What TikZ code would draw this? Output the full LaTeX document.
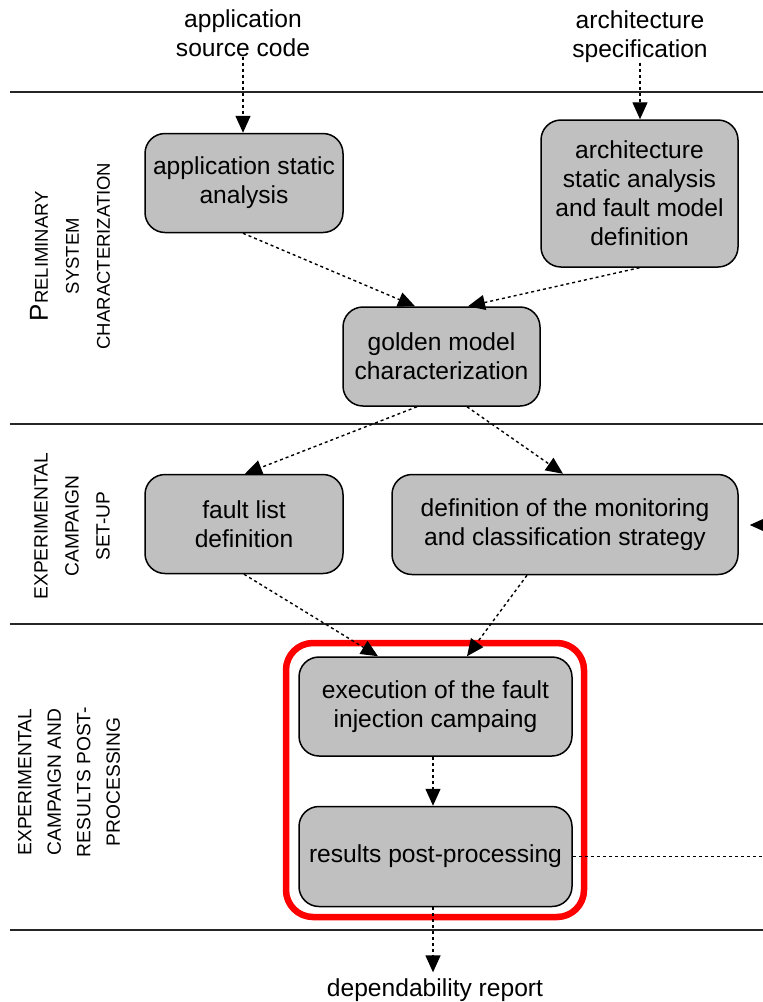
\documentclass[tikz,border=0pt]{standalone}
\usepackage{fontspec}
\setmainfont{Liberation Sans}
\usetikzlibrary{arrows.meta,calc}

\tikzset{
  stepbox/.style={draw=black, line width=1.5pt, fill=boxgray, rounded corners=20pt,
    align=center, inner sep=0pt, font=\fontsize{24.6}{29}\selectfont},
  plain/.style={align=center, inner sep=0pt, font=\fontsize{24.6}{29}\selectfont},
  flow/.style={line width=1.4pt, dash pattern=on 3pt off 3pt,
    -{Triangle[length=17pt,width=15pt]}},
  flownotip/.style={line width=1.4pt, dash pattern=on 3pt off 3pt},
  lane/.style={line width=1.5pt, draw=black!85},
  phase/.style={rotate=90, align=center, inner sep=0pt}
}
\definecolor{boxgray}{HTML}{C0C0C0}

\begin{document}
\begin{tikzpicture}[x=1pt,y=-1pt]
  \clip (0,0) rectangle (763,1002);
  \fill[white] (0,0) rectangle (763,1002);

  % lane separators
  \draw[lane] (10,92) -- (763,92);
  \draw[lane] (10,424) -- (763,424);
  \draw[lane] (10,624) -- (763,624);
  \draw[lane] (10,930) -- (763,930);

  % phase labels
  \node[phase, font=\fontsize{18.5}{31}\selectfont] (ph1) at (70,256)
    {{\fontsize{26}{31}\selectfont P}RELIMINARY\\SYSTEM\\CHARACTERIZATION};
  \node[phase, font=\fontsize{19.2}{31}\selectfont] (ph2) at (72,526)
    {EXPERIMENTAL\\CAMPAIGN\\SET-UP};
  \node[phase, font=\fontsize{19.2}{29.5}\selectfont] (ph3) at (69,782)
    {EXPERIMENTAL\\CAMPAIGN AND\\RESULTS POST-\\PROCESSING};

  % inputs
  \node[plain] (src) at (243,33) {application\\source code};
  \node[plain] (spec) at (640,36.5) {architecture\\specification};

  % process steps
  \node[stepbox, minimum width=198pt, minimum height=99pt] (app) at (244,183)
    {application static\\analysis};
  \node[stepbox, minimum width=197pt, minimum height=147pt] (arch) at (639.5,193.5)
    {architecture\\static analysis\\and fault model\\definition};
  \node[stepbox, minimum width=197pt, minimum height=99pt] (golden) at (441.5,356.5)
    {golden model\\characterization};
  \node[stepbox, minimum width=198pt, minimum height=99pt] (flist) at (244,524)
    {fault list\\definition};
  \node[stepbox, minimum width=346pt, minimum height=100pt] (monitor) at (565,524.5)
    {definition of the monitoring\\and classification strategy};
  \node[stepbox, minimum width=273pt, minimum height=99pt] (exec) at (435.5,706.5)
    {execution of the fault\\injection campaing};
  \node[stepbox, minimum width=273pt, minimum height=100pt] (post) at (435.5,856.5)
    {results post-processing};

  % highlighted campaign block
  \draw[red, line width=6.5pt, rounded corners=27pt] (286,643) rectangle (584,917);

  % output
  \node[plain] (report) at (435,990) {dependability report};

  % off-picture ends of the feedback loop
  \coordinate (fbin) at (775,525);
  \coordinate (fbout) at (775,857);

  % connectors
  \draw[flow] (src.south) -- (app.north -| src.south);
  \draw[flow] (spec.south) -- (arch.north -| spec.south);
  \draw[flow] ($(app.south)+(-1,0)$) -- ($(golden.north)+(-26.5,0)$);
  \draw[flow] (arch.south) -- ($(golden.north)+(26.5,0)$);
  \draw[flow] ($(golden.south)+(-24.5,0)$) -- ($(flist.north)+(1,0)$);
  \draw[flow] ($(golden.south)+(25.5,0)$) -- ($(monitor.north)+(-2,0)$);
  \draw[flow] (flist.south) -- ($(exec.north)+(-57.5,0)$);
  \draw[flow] ($(monitor.south)+(-38,0)$) -- ($(exec.north)+(31.5,0)$);
  \draw[flow] ($(exec.south)+(-2.5,0)$) -- ($(post.north)+(-2.5,0)$);
  \draw[flow] ($(post.south)+(-2.5,0)$) -- ($(report.north)+(-2,-6)$);
  \draw[flownotip] (post.east) -- (post.east -| fbout);
  \draw[flow] (fbin) -- ($(monitor.east)+(11,0.5)$);
\end{tikzpicture}
\end{document}
